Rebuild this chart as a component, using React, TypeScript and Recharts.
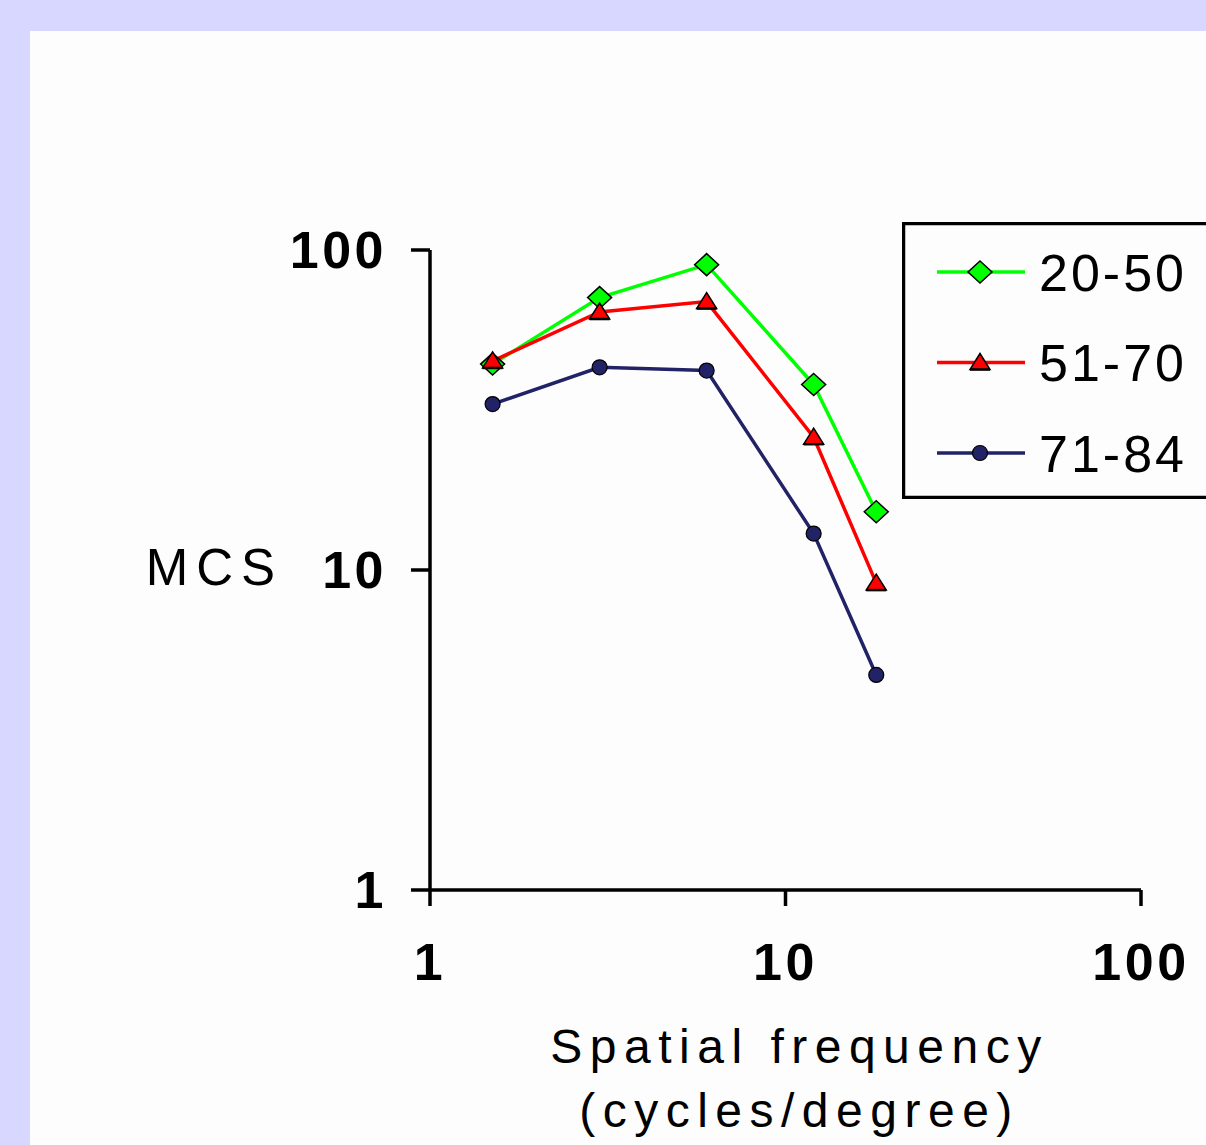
import { LineChart, Line, XAxis, YAxis, Legend } from "recharts";

// spatial frequency (cycles/degree)
const FREQ = [1.5, 3, 6, 12, 18];
// MCS by age group
const AGE_20_50 = [44, 71, 90, 38, 15.2];
const AGE_51_70 = [45, 64, 69, 26, 9.1];
const AGE_71_84 = [33, 43, 42, 13, 4.7];
const GROUPS = ["20-50", "51-70", "71-84"];
const LOG_TICKS = [1, 10, 100];

const FONT = "'Liberation Sans', Arial, sans-serif";

const COLORS: Record<string, string> = {
  g1: "#00ff00",
  g2: "#ff0000",
  g3: "#222266",
};

const data = FREQ.map((f, i) => ({
  f,
  g1: AGE_20_50[i],
  g2: AGE_51_70[i],
  g3: AGE_71_84[i],
}));

function Marker({ kind, cx, cy }: { kind: string; cx: number; cy: number }) {
  if (kind === "g1") {
    return (
      <polygon
        points={`${cx},${cy - 11} ${cx + 12},${cy} ${cx},${cy + 11} ${cx - 12},${cy}`}
        fill={COLORS.g1}
        stroke="#000"
        strokeWidth={1.5}
      />
    );
  }
  if (kind === "g2") {
    return (
      <g>
        <polygon
          points={`${cx},${cy - 9} ${cx + 10},${cy + 7} ${cx - 10},${cy + 7}`}
          fill={COLORS.g2}
          stroke="#000"
          strokeWidth={1.5}
        />
        <line x1={cx - 10} x2={cx + 10} y1={cy + 7} y2={cy + 7} stroke="#000" strokeWidth={2.5} />
      </g>
    );
  }
  return <circle cx={cx} cy={cy} r={7.5} fill={COLORS.g3} stroke="#000" strokeWidth={1.2} />;
}

const dotFor = (kind: string) => (props: any) =>
  <Marker key={`${kind}-${props.index}`} kind={kind} cx={props.cx} cy={props.cy} />;

function LegendBox({ payload }: any) {
  return (
    <svg width={330} height={277} style={{ display: "block" }}>
      <rect x={1.5} y={1.5} width={340} height={274} fill="#fdfdfd" stroke="#000" strokeWidth={3.5} />
      {(payload || []).map((entry: any, i: number) => {
        const y = 50 + i * 90.5;
        const kind = entry.dataKey as string;
        return (
          <g key={kind}>
            <line x1={35} x2={123} y1={y} y2={y} stroke={COLORS[kind]} strokeWidth={3.5} />
            <Marker kind={kind} cx={78} cy={y} />
            <text x={137} y={y + 18.5} fontSize={52} fontFamily={FONT} letterSpacing={3} fill="#000">
              {entry.value}
            </text>
          </g>
        );
      })}
    </svg>
  );
}

const tickStyle = {
  fill: "#000",
  fontSize: 52,
  fontWeight: "bold",
  fontFamily: FONT,
  letterSpacing: 3.5,
};

export default function App() {
  return (
    <div
      style={{
        position: "absolute",
        left: 0,
        top: 0,
        width: 1206,
        height: 1145,
        background: "#d7d7ff",
        overflow: "hidden",
      }}
    >
      <div style={{ position: "absolute", left: 30, top: 31, right: 0, bottom: 0, background: "#fdfdfd" }} />
      <div style={{ position: "absolute", left: 0, top: 0 }}>
        <LineChart width={1206} height={1145} data={data} margin={{ top: 250, right: 65, bottom: 225, left: 370 }}>
          <XAxis
            dataKey="f"
            type="number"
            scale="log"
            domain={[1, 100]}
            ticks={LOG_TICKS}
            interval={0}
            allowDataOverflow
            height={30}
            tickSize={16}
            tickMargin={37}
            axisLine={{ stroke: "#000", strokeWidth: 3.5 }}
            tickLine={{ stroke: "#000", strokeWidth: 3.5 }}
            tick={tickStyle}
            label={({ viewBox }: any) => {
              const cx = viewBox.x + viewBox.width / 2 + 14;
              return (
                <text textAnchor="middle" fontSize={48} fontFamily={FONT} letterSpacing={7.5} fill="#000">
                  <tspan x={cx} y={viewBox.y + 173}>Spatial frequency</tspan>
                  <tspan x={cx} y={viewBox.y + 237}>(cycles/degree)</tspan>
                </text>
              );
            }}
          />
          <YAxis
            type="number"
            scale="log"
            domain={[1, 100]}
            ticks={LOG_TICKS}
            interval={0}
            allowDataOverflow
            width={60}
            tickSize={19}
            tickMargin={24}
            axisLine={{ stroke: "#000", strokeWidth: 3.5 }}
            tickLine={{ stroke: "#000", strokeWidth: 3.5 }}
            tick={tickStyle}
            label={({ viewBox }: any) => (
              <text
                x={viewBox.x - 87}
                y={viewBox.y + viewBox.height / 2 + 15}
                textAnchor="end"
                fontSize={51}
                fontFamily={FONT}
                letterSpacing={8}
                fill="#000"
              >
                MCS
              </text>
            )}
          />
          <Legend
            layout="vertical"
            align="center"
            verticalAlign="middle"
            content={<LegendBox />}
            wrapperStyle={{ left: 902, top: 222, width: 330, height: 277 }}
          />
          <Line
            type="linear"
            dataKey="g1"
            name={GROUPS[0]}
            stroke={COLORS.g1}
            strokeWidth={3.5}
            dot={dotFor("g1")}
            activeDot={false}
            isAnimationActive={false}
          />
          <Line
            type="linear"
            dataKey="g2"
            name={GROUPS[1]}
            stroke={COLORS.g2}
            strokeWidth={3.5}
            dot={dotFor("g2")}
            activeDot={false}
            isAnimationActive={false}
          />
          <Line
            type="linear"
            dataKey="g3"
            name={GROUPS[2]}
            stroke={COLORS.g3}
            strokeWidth={3.5}
            dot={dotFor("g3")}
            activeDot={false}
            isAnimationActive={false}
          />
        </LineChart>
      </div>
    </div>
  );
}
